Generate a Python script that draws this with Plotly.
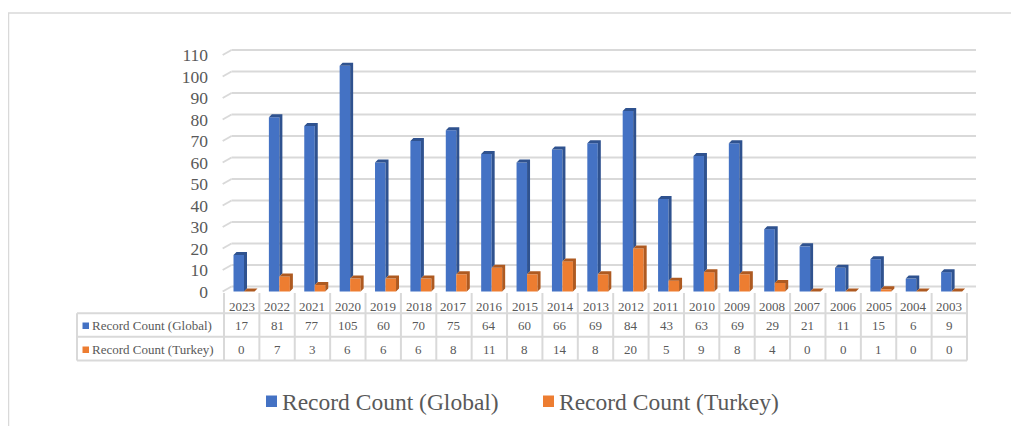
import plotly.graph_objects as go

# ---------------- data ----------------
years = ["2023", "2022", "2021", "2020", "2019", "2018", "2017", "2016", "2015", "2014", "2013",
         "2012", "2011", "2010", "2009", "2008", "2007", "2006", "2005", "2004", "2003"]
global_counts = [17, 81, 77, 105, 60, 70, 75, 64, 60, 66, 69, 84, 43, 63, 69, 29, 21, 11, 15, 6, 9]
turkey_counts = [0, 7, 3, 6, 6, 6, 8, 11, 8, 14, 8, 20, 5, 9, 8, 4, 0, 0, 1, 0, 0]
series_names = ["Record Count (Global)", "Record Count (Turkey)"]
y_ticks = list(range(0, 111, 10))

# ---------------- style ----------------
PAGE_OFF = 8                    # browser body margin
W, H = 1019 - 2 * PAGE_OFF, 434 - 2 * PAGE_OFF
# geometry expressed in page pixels
L_PX, R_PX = 224, 967           # plot area horizontal pixels
T_PX, B_PX = 30, 300            # plot area vertical pixels
ZERO_PX = 291.5
PX_PER_UNIT = 2.15
Y_RANGE = [-(B_PX - ZERO_PX) / PX_PER_UNIT, (ZERO_PX - T_PX) / PX_PER_UNIT]
N = len(years)
COL_W = (R_PX - L_PX) / N

BLUE, BLUE_D = "#4472C4", "#2F528F"
ORANGE, ORANGE_D = "#ED7D31", "#AE5A21"
GRID = "#D9D9D9"
TXT = "#595959"
FONT = "Liberation Serif"

BAR_W = 10.5 / COL_W
OFF_B = -0.5 + 9.5 / COL_W
OFF_O = OFF_B + BAR_W
DX = 3.0 / COL_W
DY = 3.0 / PX_PER_UNIT
GRID_UP = 5.0 / PX_PER_UNIT


def pxx(px):
    return (px - L_PX) / (R_PX - L_PX)


def pxy(py):
    return (B_PX - py) / (B_PX - T_PX)


xs = list(range(N))
fig = go.Figure()

# front faces
fig.add_trace(go.Bar(x=xs, y=global_counts, offset=OFF_B, width=BAR_W, marker=dict(color=BLUE, line=dict(width=0)),
                     name=series_names[0], showlegend=False, hoverinfo="y"))
fig.add_trace(go.Bar(x=xs, y=turkey_counts, offset=OFF_O, width=BAR_W, marker=dict(color=ORANGE, line=dict(width=0)),
                     name=series_names[1], showlegend=False, hoverinfo="y"))

# 3D side/top faces computed from data
bx, by, ox, oy = [], [], [], []
for i in xs:
    vb, vo = global_counts[i], turkey_counts[i]
    x0 = i + OFF_B
    x1 = x0 + BAR_W
    bx += [x0, x0 + DX, x1 + DX, x1 + DX, x1, x1, None]
    by += [vb, vb + DY, vb + DY, vo + DY, vo, vb, None]
    o0 = i + OFF_O
    o1 = o0 + BAR_W
    ox += [o0, o0 + DX, o1 + DX, o1 + DX, o1, o1, None]
    oy += [vo, vo + DY, vo + DY, DY, 0, vo, None]
fig.add_trace(go.Scatter(x=bx, y=by, mode="lines", fill="toself", fillcolor=BLUE_D, line=dict(width=0, color=BLUE_D),
                         showlegend=False, hoverinfo="skip", cliponaxis=False))
fig.add_trace(go.Scatter(x=ox, y=oy, mode="lines", fill="toself", fillcolor=ORANGE_D, line=dict(width=0, color=ORANGE_D),
                         showlegend=False, hoverinfo="skip", cliponaxis=False))

shapes = []
# gridlines (back wall + left wall diagonal)
for v in y_ticks:
    shapes.append(dict(type="line", xref="paper", yref="y", x0=pxx(231.5), x1=pxx(976), y0=v + GRID_UP, y1=v + GRID_UP,
                       line=dict(color=GRID, width=2), layer="below"))
    shapes.append(dict(type="line", xref="paper", yref="y", x0=pxx(222.7), x1=pxx(231.5), y0=v, y1=v + GRID_UP,
                       line=dict(color=GRID, width=2), layer="below"))

# data table lines
row_lines = [313.3, 336.7, 360.5]
for ry in row_lines:
    shapes.append(dict(type="line", xref="paper", yref="paper", x0=pxx(77), x1=pxx(R_PX), y0=pxy(ry), y1=pxy(ry),
                       line=dict(color=GRID, width=2)))
shapes.append(dict(type="line", xref="paper", yref="paper", x0=pxx(77), x1=pxx(77), y0=pxy(313.3), y1=pxy(360.5),
                   line=dict(color=GRID, width=2)))
for k in range(N + 1):
    xp = L_PX + k * COL_W
    shapes.append(dict(type="line", xref="paper", yref="paper", x0=pxx(xp), x1=pxx(xp), y0=pxy(293), y1=pxy(360.5),
                       line=dict(color=GRID, width=2)))

# outer chart border
shapes.append(dict(type="line", xref="paper", yref="paper", x0=pxx(7), x1=pxx(1030), y0=pxy(13), y1=pxy(13),
                   line=dict(color=GRID, width=1.5)))
shapes.append(dict(type="line", xref="paper", yref="paper", x0=pxx(8.5), x1=pxx(8.5), y0=pxy(13), y1=pxy(440),
                   line=dict(color=GRID, width=1.5)))

# table legend keys
shapes.append(dict(type="rect", xref="paper", yref="paper", x0=pxx(82.5), x1=pxx(89), y0=pxy(322.5), y1=pxy(329),
                   fillcolor=BLUE, line=dict(width=0)))
shapes.append(dict(type="rect", xref="paper", yref="paper", x0=pxx(82.5), x1=pxx(89), y0=pxy(346.5), y1=pxy(353),
                   fillcolor=ORANGE, line=dict(width=0)))
# bottom legend keys
shapes.append(dict(type="rect", xref="paper", yref="paper", x0=pxx(266), x1=pxx(277), y0=pxy(395.5), y1=pxy(407),
                   fillcolor=BLUE, line=dict(width=0)))
shapes.append(dict(type="rect", xref="paper", yref="paper", x0=pxx(543), x1=pxx(554), y0=pxy(395.5), y1=pxy(407),
                   fillcolor=ORANGE, line=dict(width=0)))

annotations = []
tf = dict(family=FONT, size=13, color=TXT)
for i in xs:
    annotations.append(dict(x=i, y=pxy(306.5), xref="x", yref="paper", text=years[i], showarrow=False, font=tf,
                            xanchor="center", yanchor="middle"))
    annotations.append(dict(x=i, y=pxy(325.5), xref="x", yref="paper", text=str(global_counts[i]), showarrow=False,
                            font=tf, xanchor="center", yanchor="middle"))
    annotations.append(dict(x=i, y=pxy(349), xref="x", yref="paper", text=str(turkey_counts[i]), showarrow=False,
                            font=tf, xanchor="center", yanchor="middle"))
annotations.append(dict(x=pxx(90), y=pxy(325.5), xref="paper", yref="paper", text=series_names[0], showarrow=False,
                        font=tf, xanchor="left", yanchor="middle"))
annotations.append(dict(x=pxx(90), y=pxy(349), xref="paper", yref="paper", text=series_names[1], showarrow=False,
                        font=tf, xanchor="left", yanchor="middle"))
lf = dict(family=FONT, size=23.5, color=TXT)
annotations.append(dict(x=pxx(279.5), y=pxy(401.5), xref="paper", yref="paper", text=series_names[0], showarrow=False,
                        font=lf, xanchor="left", yanchor="middle"))
annotations.append(dict(x=pxx(556.5), y=pxy(401.5), xref="paper", yref="paper", text=series_names[1], showarrow=False,
                        font=lf, xanchor="left", yanchor="middle"))

fig.update_layout(
    width=W, height=H,
    margin=dict(l=L_PX - PAGE_OFF, r=(W + PAGE_OFF) - R_PX, t=T_PX - PAGE_OFF, b=(H + PAGE_OFF) - B_PX, pad=0),
    paper_bgcolor="white", plot_bgcolor="rgba(0,0,0,0)",
    barmode="overlay",
    showlegend=False,
    xaxis=dict(range=[-0.5, N - 0.5], showgrid=False, zeroline=False, showline=False, showticklabels=False,
               ticks="", fixedrange=True),
    yaxis=dict(range=Y_RANGE, tickvals=y_ticks, showgrid=False, zeroline=False, showline=False, ticks="",
               tickfont=dict(family=FONT, size=17.5, color=TXT), ticklabelstandoff=15, fixedrange=True),
    shapes=shapes,
    annotations=annotations,
)

fig.write_html("out.html")
